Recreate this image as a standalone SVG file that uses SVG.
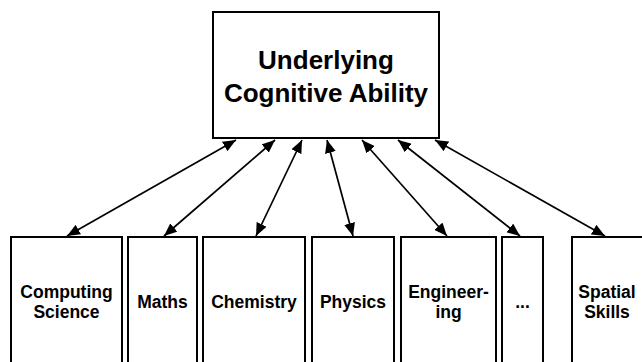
<svg xmlns="http://www.w3.org/2000/svg" width="642" height="362" viewBox="0 0 642 362">
<style>
.box{fill:#fff;stroke:#000;stroke-width:2}
.t{font-family:"Liberation Sans",Arial,sans-serif;font-weight:bold;fill:#000;text-anchor:middle}
.big{font-size:26px}
.sm{font-size:17.5px}
.c{stroke:#000;stroke-width:1.7;fill:none;marker-start:url(#ah);marker-end:url(#ah)}
</style>
<defs>
<marker id="ah" markerUnits="userSpaceOnUse" markerWidth="15" markerHeight="11" refX="13" refY="5.5" orient="auto-start-reverse" viewBox="0 0 15 11">
<path d="M0,0 L13,5.5 L0,11 z" fill="#000"/>
</marker>
</defs>
<rect width="642" height="362" fill="#fff"/>
<g id="top">
<rect class="box" x="213" y="12" width="226" height="126"/>
<text class="t big" x="326" y="69">Underlying</text>
<text class="t big" x="326" y="102">Cognitive Ability</text>
</g>
<g id="cs">
<rect class="box" x="11" y="237" width="111" height="140"/>
<text class="t sm" x="66.5" y="298">Computing</text>
<text class="t sm" x="66.5" y="318">Science</text>
</g>
<g id="maths">
<rect class="box" x="128" y="237" width="69" height="140"/>
<text class="t sm" x="162.5" y="308">Maths</text>
</g>
<g id="chem">
<rect class="box" x="203" y="237" width="102" height="140"/>
<text class="t sm" x="254" y="308">Chemistry</text>
</g>
<g id="phys">
<rect class="box" x="312" y="237" width="82" height="140"/>
<text class="t sm" x="353" y="308">Physics</text>
</g>
<g id="eng">
<rect class="box" x="401" y="237" width="95" height="140"/>
<text class="t sm" x="448.5" y="298">Engineer-</text>
<text class="t sm" x="448.5" y="318">ing</text>
</g>
<g id="etc">
<rect class="box" x="502" y="237" width="41" height="140"/>
<text class="t sm" x="522.5" y="308">...</text>
</g>
<g id="spatial">
<rect class="box" x="572" y="237" width="72" height="140"/>
<text class="t sm" x="607" y="298">Spatial</text>
<text class="t sm" x="607" y="318">Skills</text>
</g>
<g id="connectors">
<line class="c" x1="236" y1="140" x2="67" y2="236"/>
<line class="c" x1="275" y1="140" x2="164" y2="236"/>
<line class="c" x1="302" y1="140" x2="256" y2="236"/>
<line class="c" x1="327" y1="140" x2="353" y2="236"/>
<line class="c" x1="362" y1="140" x2="447" y2="236"/>
<line class="c" x1="398" y1="140" x2="520" y2="236"/>
<line class="c" x1="435" y1="140" x2="605" y2="236"/>
</g>
</svg>
